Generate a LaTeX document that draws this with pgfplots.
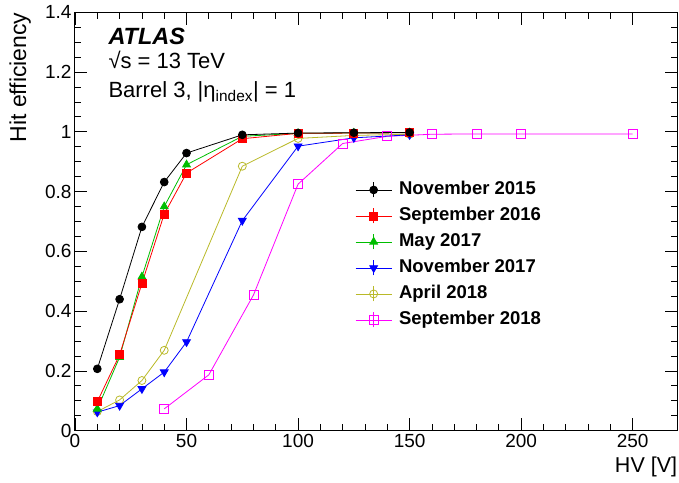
\documentclass[border=0pt]{standalone}
\usepackage{fontspec}
\setmainfont{Liberation Sans}
\usepackage{pgfplots}
\pgfplotsset{compat=1.18}
\definecolor{cgreen}{RGB}{0,190,0}
\definecolor{colive}{RGB}{185,185,40}
\definecolor{cmag}{RGB}{255,0,255}
\begin{document}
\begin{tikzpicture}
\useasboundingbox (-75pt,-51.3pt) rectangle (604pt,430.7pt);
\begin{axis}[
  at={(0pt,0pt)}, anchor=south west,
  scale only axis, width=602.3pt, height=418.4pt,
  xmin=0, xmax=270, ymin=0, ymax=1.4,
  xtick={0,50,100,150,200,250}, minor x tick num=4,
  ytick={0,0.2,0.4,0.6,0.8,1,1.2,1.4}, minor y tick num=3,
  tick align=inside, tick pos=both,
  major tick length=12.3pt, minor tick length=6.3pt,
  every tick/.style={black, line width=0.8pt},
  axis line style={line width=1pt},
  ticklabel style={font=\fontsize{19}{22}\selectfont},
  /pgf/number format/assume math mode=true,
  xlabel={HV [V]}, ylabel={Hit efficiency},
  xlabel style={font=\fontsize{21.5}{25}\selectfont, at={(axis description cs:1,-0.063)}, anchor=north east, inner sep=0pt},
  ylabel style={font=\fontsize{23}{27}\selectfont, at={(axis description cs:-0.073,1)}, anchor=south east, inner sep=0pt},
  reverse legend,
  legend cell align=left,
  legend style={draw=none, fill=none, at={(axis description cs:0.46,0.601)}, anchor=north west,
    font=\bfseries\fontsize{18.5}{22}\selectfont, row sep=9pt, column sep=0pt,
    nodes={inner sep=0pt, text height=13pt, text depth=4pt}},
  legend image code/.code={
    \draw[#1,mark=none] (0pt,0pt) -- (36pt,0pt);
    \draw[#1,mark=none] (18pt,-7.5pt) -- (18pt,7.5pt);
    \draw[#1,only marks] plot coordinates {(18pt,0pt)};
    \path (43pt,0pt);
  },
]
\addplot[cmag, line width=0.8pt, mark=square, mark size=4.5pt] coordinates {
(40,0.073)(60,0.187)(80,0.454)(100,0.825)(120,0.961)(140,0.985)(160,0.992)(180,0.993)(200,0.993)(250,0.993)};
\addlegendentry{September 2018}
\addplot[colive, line width=0.8pt, mark=o, mark size=4pt] coordinates {
(10,0.064)(20,0.103)(30,0.168)(40,0.269)(75,0.885)(100,0.978)(125,0.988)(150,0.992)};
\addlegendentry{April 2018}
\addplot[blue, line width=0.8pt, mark=triangle*, mark size=4.5pt, mark options={rotate=180}] coordinates {
(10,0.062)(20,0.084)(30,0.140)(40,0.196)(50,0.297)(75,0.703)(100,0.952)(125,0.980)(150,0.990)};
\addlegendentry{November 2017}
\addplot[cgreen, line width=0.8pt, mark=triangle*, mark size=4.5pt] coordinates {
(10,0.073)(20,0.246)(30,0.515)(40,0.750)(50,0.890)(75,0.985)(100,0.995)(125,0.996)(150,0.997)};
\addlegendentry{May 2017}
\addplot[red, line width=0.8pt, mark=square*, mark size=4pt] coordinates {
(10,0.097)(20,0.254)(30,0.493)(40,0.725)(50,0.862)(75,0.977)(100,0.995)(125,0.996)(150,0.997)};
\addlegendentry{September 2016}
\addplot[black, line width=0.8pt, mark=*, mark size=3.9pt] coordinates {
(10,0.207)(20,0.440)(30,0.682)(40,0.832)(50,0.929)(75,0.990)(100,0.996)(125,0.997)(150,0.998)};
\addlegendentry{November 2015}
\node[anchor=base west, inner sep=0pt, font=\bfseries\itshape\fontsize{23.5}{27}\selectfont] at (axis description cs:0.0553,0.9235) {ATLAS};
\node[anchor=base west, inner sep=0pt, font=\fontsize{22}{26}\selectfont] at (axis description cs:0.0553,0.866) {√s = 13 TeV};
\node[anchor=base west, inner sep=0pt, font=\fontsize{22}{26}\selectfont] at (axis description cs:0.0553,0.796) {Barrel 3, |η\textsubscript{index}| = 1};
\end{axis}
\end{tikzpicture}
\end{document}
